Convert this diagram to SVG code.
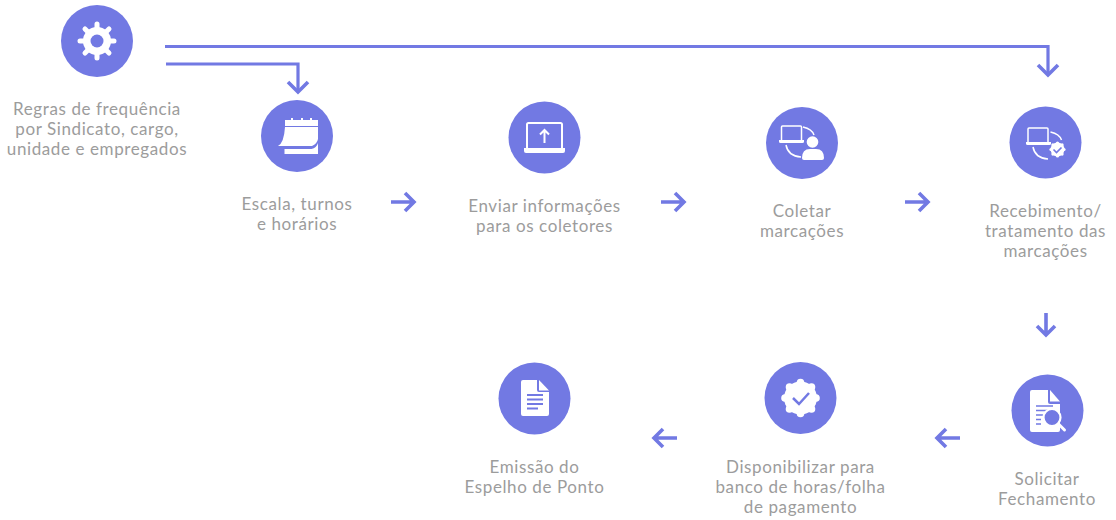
<svg xmlns="http://www.w3.org/2000/svg" width="1116" height="520" viewBox="0 0 1116 520">
<style>
.c{fill:#7279e3}
.t{font-family:"Lato","Liberation Sans",sans-serif;font-size:17px;fill:#9c9c9c;text-anchor:middle;letter-spacing:.6px}
.l{fill:none;stroke:#7279e3;stroke-width:3.2}
.h{fill:none;stroke:#7279e3;stroke-width:3.6}
.w{fill:#fff}
.ws{fill:none;stroke:#fff;stroke-width:1.5}
.p{fill:none;stroke:#7279e3;stroke-width:1.6}
</style>
<defs>
<g id="gear"><circle r="14"/><path stroke="#fff" stroke-width="5" stroke-linecap="round" d="M0-17V17M-17 0H17M-12-12L12 12M-12 12L12-12"/></g>
<g id="badge"><circle r="16.500"/><circle cy="-15.500" r="3.800"/><circle cy="15.500" r="3.800"/><circle cx="-15.500" r="3.800"/><circle cx="15.500" r="3.800"/><circle cx="-11" cy="-11" r="3.800"/><circle cx="11" cy="-11" r="3.800"/><circle cx="-11" cy="11" r="3.800"/><circle cx="11" cy="11" r="3.800"/></g>
</defs>
<g id="connectors">
<path class="l" d="M165 46.500H1048V75"/>
<path class="h" d="M1038 65l10 10 10-10"/>
<path class="l" d="M166 64H298V92"/>
<path class="h" d="M288 82l10 10 10-10"/>
<path class="h" d="M391 202H414M405 193l9 9-9 9"/>
<path class="h" d="M661 202H684M675 193l9 9-9 9"/>
<path class="h" d="M905 202H928M919 193l9 9-9 9"/>
<path class="h" d="M1046 313V335M1037 326l9 9 9-9"/>
<path class="h" d="M960 438H937M946 429l-9 9 9 9"/>
<path class="h" d="M677 438H654M663 429l-9 9 9 9"/>
</g>
<g id="regras">
<circle class="c" cx="97" cy="41" r="36"/>
<use href="#gear" class="w" x="97" y="41"/>
<circle class="c" cx="97" cy="41" r="6.500"/>
<text class="t"><tspan x="97" y="115">Regras de frequência</tspan><tspan x="97" y="135">por Sindicato, cargo,</tspan><tspan x="97" y="155">unidade e empregados</tspan></text>
</g>
<g id="escala">
<circle class="c" cx="297" cy="136" r="36"/>
<path class="w" d="M285 120h33v6h-33z"/>
<path class="w" d="M291 118h2v4h-2zM301 118h2v4h-2zM310 118h2v4h-2z"/>
<path class="w" d="M285 127h33v12q-1 5-6 7h-34q6-3 7-19z"/>
<path class="w" d="M284.500 149h27q5-1 6.500-6v11h-33.500z"/>
<text class="t"><tspan x="297" y="209.500">Escala, turnos</tspan><tspan x="297" y="230">e horários</tspan></text>
</g>
<g id="enviar">
<circle class="c" cx="544.500" cy="137.500" r="36"/>
<rect fill="none" stroke="#fff" stroke-width="2" x="527" y="123" width="35" height="26" rx="1.500"/>
<path class="w" d="M524 148h41v3q0 2-2 2h-37q-2 0-2-2z"/>
<path fill="none" stroke="#fff" stroke-width="2" d="M544.500 143V130M540 134.500l4.500-4.500 4.500 4.500"/>
<text class="t"><tspan x="544.500" y="211.500">Enviar informações</tspan><tspan x="544.500" y="231.500">para os coletores</tspan></text>
</g>
<g id="coletar">
<circle class="c" cx="802" cy="143" r="36"/>
<rect class="ws" x="781.500" y="126" width="20" height="15" rx="1"/>
<path class="w" d="M779 140h25v1.500q0 1.500-1.500 1.500h-22q-1.500 0-1.500-1.500z"/>
<path class="ws" d="M803 127q9 2 11 8M786 145q2 11 15 12"/>
<circle class="w" cx="812.500" cy="142" r="5.800"/>
<path class="w" d="M802 158q0-9 8-9h6q8 0 8 9 0 2-2 2h-18q-2 0-2-2z"/>
<text class="t"><tspan x="802" y="216.500">Coletar</tspan><tspan x="802" y="237">marcações</tspan></text>
</g>
<g id="recebimento">
<circle class="c" cx="1045.500" cy="142.500" r="36"/>
<rect class="ws" x="1028" y="128" width="20" height="15" rx="1"/>
<path class="w" d="M1026 142h25v1.500q0 1.500-1.500 1.500h-22q-1.500 0-1.500-1.500z"/>
<path class="ws" d="M1050.500 132q9 2 11 8M1033 147q2 11 15 12"/>
<use href="#badge" class="w" transform="translate(1057.500 149.500) scale(.42)"/>
<path class="p" d="M1053.500 149.500l3 3 5-5"/>
<text class="t"><tspan x="1045.500" y="216.500">Recebimento/</tspan><tspan x="1045.500" y="237">tratamento das</tspan><tspan x="1045.500" y="257">marcações</tspan></text>
</g>
<g id="solicitar">
<circle class="c" cx="1047.500" cy="410.500" r="36"/>
<path class="w" d="M1030 392q0-2 2-2h16v12q0 2 2 2h10v26q0 2-2 2h-26q-2 0-2-2z"/>
<path class="w" d="M1050 390l10 11.500h-10z"/>
<path class="p" d="M1036 406h17M1036 410.500h14M1036 415h7M1036 419.500h5M1036 424h5"/>
<circle fill="#7279e3" stroke="#fff" stroke-width="2.200" cx="1052" cy="417.500" r="8.500"/>
<path d="M1058.500 424l6 6" stroke="#fff" stroke-width="3" stroke-linecap="round"/>
<text class="t"><tspan x="1047" y="484.500">Solicitar</tspan><tspan x="1047" y="504.500">Fechamento</tspan></text>
</g>
<g id="disponibilizar">
<circle class="c" cx="800.500" cy="398" r="36"/>
<use href="#badge" class="w" x="800.500" y="398"/>
<path d="M793 398l6 6 10-11" fill="none" stroke="#7279e3" stroke-width="2.500"/>
<text class="t"><tspan x="800.500" y="472.500">Disponibilizar para</tspan><tspan x="800.500" y="492.500">banco de horas/folha</tspan><tspan x="800.500" y="512.500">de pagamento</tspan></text>
</g>
<g id="emissao">
<circle class="c" cx="534.500" cy="398.500" r="36"/>
<path class="w" d="M521 382q0-2 2-2h14v10q0 2 2 2h10v22q0 2-2 2h-24q-2 0-2-2z"/>
<path class="w" d="M539 380l10 10.500h-10z"/>
<path d="M527 395h16M527 399.500h16M527 404h16M527 408.500h11" fill="none" stroke="#7279e3" stroke-width="2"/>
<text class="t"><tspan x="534.500" y="472.500">Emissão do</tspan><tspan x="534.500" y="492.500">Espelho de Ponto</tspan></text>
</g>
</svg>
